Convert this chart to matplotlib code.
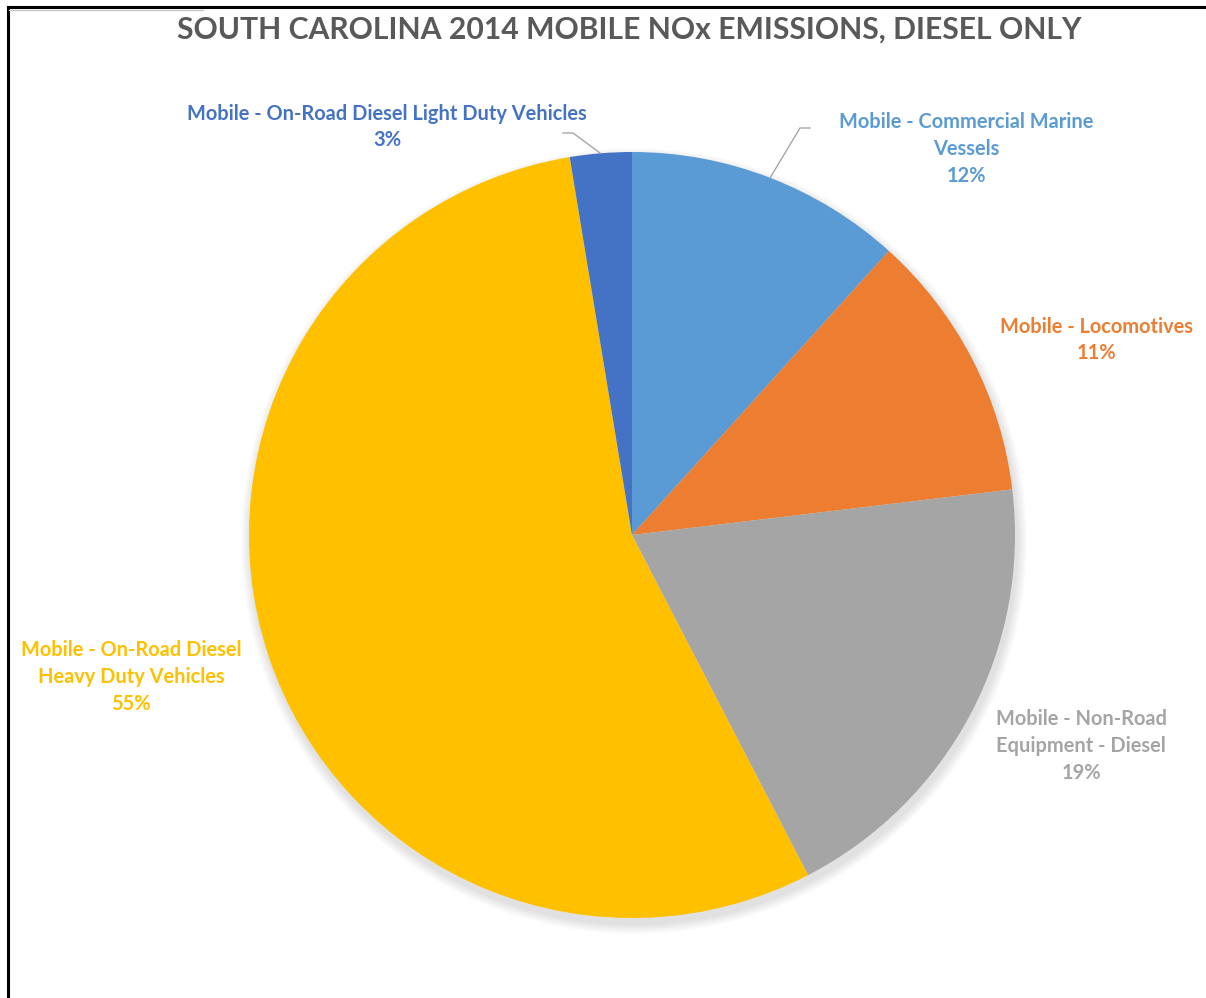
""" South Carolina 2014 mobile NOx emissions, diesel only - pie chart """
import matplotlib
matplotlib.use('Agg')
import matplotlib.pyplot as plt
from matplotlib.lines import Line2D
from matplotlib.patches import Circle

# data (shares, percent)
categories = ['Mobile - Commercial Marine\nVessels',
              'Mobile - Locomotives',
              'Mobile - Non-Road\nEquipment - Diesel',
              'Mobile - On-Road Diesel\nHeavy Duty Vehicles',
              'Mobile - On-Road Diesel Light Duty Vehicles']
shares = [11.7, 11.4, 19.3, 55.0, 2.6]
colors = ['#5B9BD5', '#ED7D31', '#A5A5A5', '#FFC000', '#4472C4']
title = 'SOUTH CAROLINA 2014 MOBILE NOx EMISSIONS, DIESEL ONLY'

plt.rcParams['font.family'] = ['Lato', 'DejaVu Sans']

W, H = 1206, 998
fig = plt.figure(figsize=(W / 100, H / 100), dpi=100)
ax = fig.add_axes([0, 0, 1, 1])

cx, cy, r = 632, 535, 383

# soft shadow under the pie
for k in range(10):
    ax.add_patch(Circle((cx + 2, cy + 6), r + 10 - k, color='#000000', alpha=0.012, lw=0, zorder=1))

# pie drawn in pixel space (y axis flipped, so counterclock=True reads clockwise)
ax.pie(shares, colors=colors, startangle=-90, counterclock=True,
       center=(cx, cy), radius=r, frame=True,
       wedgeprops=dict(linewidth=0, zorder=2))
ax.set_xlim(0, W)
ax.set_ylim(H, 0)
ax.set_aspect('equal')
ax.axis('off')

total = sum(shares)
pcts = ['%d%%' % round(v / total * 100) for v in shares]

label_pos = [(966, 149), (1096, 340), (1081, 746), (131, 677), (387, 127)]
for (x, y), cat, pct, col in zip(label_pos, categories, pcts, colors):
    ax.text(x, y, cat + '\n' + pct, ha='center', va='center', color=col,
            fontsize=14.4, fontweight='bold', linespacing=1.42, zorder=5)

# leader lines
ax.add_line(Line2D([770, 800, 810], [178, 128, 128], color='#A6A6A6', lw=1, zorder=4))
ax.add_line(Line2D([600, 573, 563], [153, 133, 133], color='#A6A6A6', lw=1, zorder=4))

ax.text(629, 30, title, ha='center', va='center', color='#595959',
        fontsize=21.7, fontweight='bold', zorder=5)

# frame pieces
ax.add_line(Line2D([8, W], [7, 7], color='black', lw=2.2, zorder=6))
ax.add_line(Line2D([8, 8], [7, H], color='black', lw=2.2, zorder=6))
ax.add_line(Line2D([9, 203], [9.5, 9.5], color='#C8C8C8', lw=1, zorder=6))

plt.savefig('out.png', dpi=100)
